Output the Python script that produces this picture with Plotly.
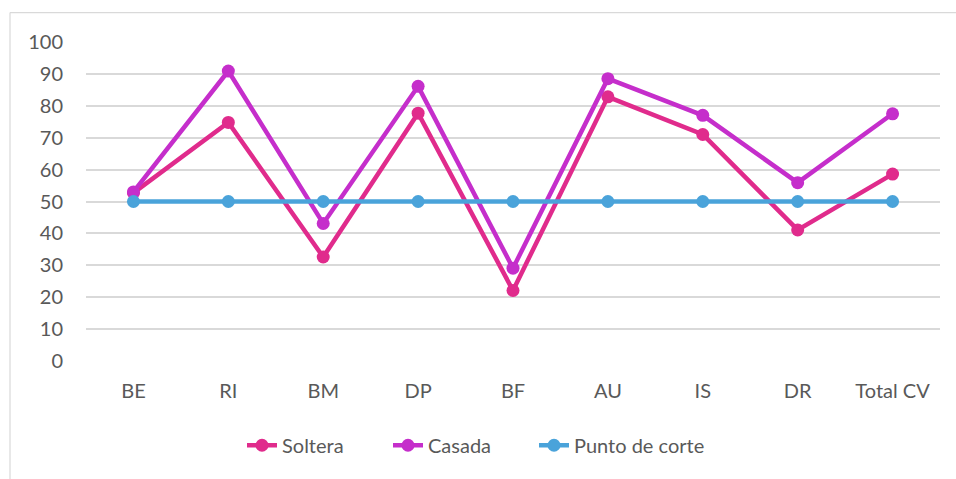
import plotly.graph_objects as go

categories = ["BE", "RI", "BM", "DP", "BF", "AU", "IS", "DR", "Total CV"]
soltera = [52.7, 74.8, 32.6, 77.7, 22.1, 82.8, 71.0, 41.1, 58.6]
casada = [53.0, 90.9, 43.1, 86.1, 29.1, 88.5, 77.0, 55.9, 77.5]
punto_corte = [50, 50, 50, 50, 50, 50, 50, 50, 50]
y_ticks = [0, 10, 20, 30, 40, 50, 60, 70, 80, 90, 100]

W, H = 956, 479
L, R, T, B = 86, 16, 41.5, 117.5
plot_w = W - L - R
plot_h = H - T - B

FONT = "Lato, 'Open Sans', sans-serif"
TXT = "#595959"
FS = 20

fig = go.Figure()
series = [
    ("Soltera", soltera, "#E02B8C"),
    ("Casada", casada, "#C52ECB"),
    ("Punto de corte", punto_corte, "#4AA3DA"),
]
for name, vals, col in series:
    fig.add_trace(go.Scatter(
        x=categories, y=vals, name=name, mode="lines+markers",
        line=dict(color=col, width=4.5),
        marker=dict(color=col, size=13),
    ))

# empty trailing legend slot so the last entry's label has room
fig.add_trace(go.Scatter(
    x=[None], y=[None], name="", mode="lines",
    line=dict(color="rgba(0,0,0,0)", width=1), hoverinfo="skip",
))

def px_x(p):
    return (p - L) / plot_w

def px_y(p):
    return (H - B - p) / plot_h

# outer frame (top and left edges)
fig.add_shape(type="line", xref="paper", yref="paper",
              x0=px_x(10), x1=px_x(960), y0=px_y(12), y1=px_y(12),
              line=dict(color="#d9d9d9", width=1.2))
fig.add_shape(type="line", xref="paper", yref="paper",
              x0=px_x(10), x1=px_x(10), y0=px_y(12), y1=px_y(485),
              line=dict(color="#d9d9d9", width=1.2))

fig.update_layout(
    width=W, height=H,
    margin=dict(l=L, r=R, t=T, b=B),
    paper_bgcolor="white", plot_bgcolor="white",
    font=dict(family=FONT, color=TXT, size=FS),
    showlegend=True,
    legend=dict(orientation="h", x=px_x(242), xanchor="left",
                y=px_y(446), yanchor="middle",
                bgcolor="rgba(0,0,0,0)",
                font=dict(family=FONT, size=FS, color=TXT),
                itemwidth=30, tracegroupgap=0,
                entrywidth=101, entrywidthmode="pixels"),
    xaxis=dict(type="category", range=[-0.5, 8.5], showgrid=False,
               zeroline=False, showline=False, ticks="",
               tickfont=dict(family=FONT, size=FS, color=TXT),
               ticklabelstandoff=16, fixedrange=True),
    yaxis=dict(range=[0, 100], tickvals=y_ticks, showgrid=True,
               gridcolor="#d9d9d9", gridwidth=1.5, zeroline=False,
               showline=False, ticks="",
               tickfont=dict(family=FONT, size=FS, color=TXT),
               ticklabelstandoff=22, fixedrange=True),
)

fig.write_html("out.html")
